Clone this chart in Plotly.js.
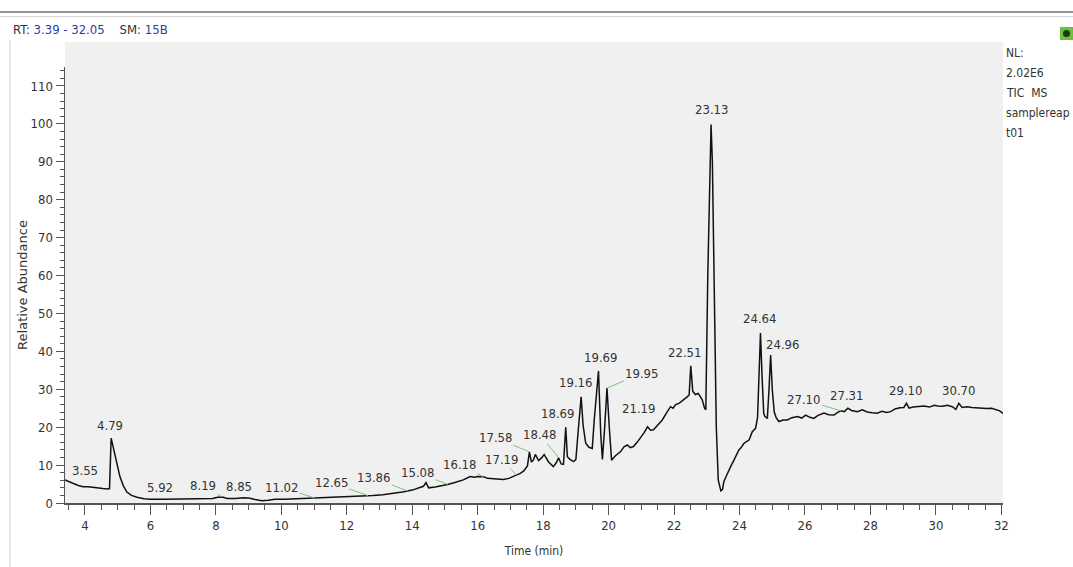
<!DOCTYPE html>
<html>
<head>
<meta charset="utf-8">
<script src="https://cdn.plot.ly/plotly-3.0.1.min.js"></script>
<style>html,body{margin:0;padding:0;background:#fff;}#chart{width:1073px;height:567px;}</style>
</head>
<body>
<div id="chart"></div>
<script>
// Retention time (min)
const timeMin = [3.39,3.50,3.63,3.80,3.94,4.10,4.25,4.40,4.55,4.70,4.75,4.80,4.86,4.92,5.00,5.07,5.17,5.28,5.42,5.59,5.80,6.00,6.40,6.80,7.20,7.60,7.90,8.05,8.19,8.35,8.60,8.85,9.00,9.20,9.40,9.60,9.80,10.10,10.40,10.70,11.02,11.30,11.60,11.90,12.20,12.50,12.80,13.10,13.40,13.70,14.00,14.20,14.34,14.42,14.50,14.70,14.90,15.08,15.30,15.56,15.77,15.90,16.00,16.18,16.30,16.50,16.78,16.95,17.09,17.19,17.30,17.40,17.52,17.58,17.64,17.70,17.76,17.86,17.95,18.03,18.16,18.31,18.40,18.47,18.55,18.62,18.69,18.74,18.82,18.93,19.00,19.07,19.16,19.22,19.30,19.40,19.50,19.56,19.69,19.76,19.81,19.88,19.95,20.02,20.09,20.20,20.36,20.47,20.57,20.66,20.76,20.87,20.97,21.08,21.19,21.28,21.37,21.50,21.64,21.77,21.89,21.97,22.04,22.17,22.30,22.40,22.46,22.51,22.57,22.65,22.74,22.86,22.93,22.97,23.03,23.10,23.13,23.17,23.23,23.29,23.35,23.43,23.48,23.52,23.60,23.67,23.75,23.83,23.90,23.98,24.05,24.13,24.21,24.29,24.39,24.49,24.55,24.60,24.64,24.69,24.74,24.78,24.85,24.90,24.95,25.00,25.06,25.12,25.20,25.33,25.46,25.60,25.77,25.90,26.02,26.15,26.27,26.40,26.58,26.72,26.89,27.00,27.10,27.20,27.31,27.42,27.60,27.75,27.90,28.05,28.21,28.35,28.50,28.62,28.75,28.90,29.02,29.10,29.18,29.30,29.45,29.64,29.80,29.95,30.05,30.20,30.35,30.50,30.61,30.70,30.80,30.95,31.10,31.25,31.40,31.55,31.70,31.85,31.95,32.05];
// Relative abundance (%)
const abundance = [6.1,5.6,5.2,4.6,4.3,4.3,4.1,4.0,3.8,3.7,3.8,17.1,14.8,12.0,9.0,6.9,4.6,2.9,2.0,1.5,1.1,1.0,1.0,1.05,1.0,1.1,1.2,1.5,1.6,1.2,1.2,1.4,1.3,0.9,0.6,0.7,1.0,1.0,1.1,1.2,1.3,1.3,1.5,1.6,1.7,1.9,2.0,2.2,2.5,2.9,3.4,3.9,4.4,5.4,4.0,4.2,4.5,4.9,5.4,6.1,7.0,6.8,7.0,6.9,6.5,6.4,6.2,6.5,7.0,7.3,7.8,8.4,9.8,13.5,10.8,11.3,12.8,11.2,11.9,12.8,10.9,9.6,10.6,11.9,10.3,10.2,20.0,12.2,11.5,10.9,11.5,19.0,28.0,20.5,15.8,14.7,14.4,21.9,34.8,18.0,11.5,20.0,30.3,20.0,11.3,12.4,13.5,14.8,15.3,14.6,14.9,16.0,17.1,18.5,20.1,19.2,19.3,20.5,21.9,23.8,25.4,25.0,25.9,26.4,27.2,28.0,28.5,36.2,29.5,28.6,28.9,27.2,25.0,24.6,60.0,95.0,99.8,90.0,55.0,20.0,6.0,3.2,3.6,5.6,7.2,8.7,10.0,11.3,12.5,14.0,14.6,15.7,16.2,16.6,18.8,19.7,22.5,38.0,44.8,33.0,23.5,22.8,22.3,30.0,39.0,30.0,24.0,22.5,21.5,21.9,21.9,22.5,22.8,22.4,23.2,22.6,22.3,23.1,23.7,23.3,23.2,23.9,24.3,24.1,25.0,24.4,24.1,24.6,24.0,23.8,23.7,24.2,23.9,24.1,24.8,25.1,25.2,26.3,25.0,25.3,25.4,25.6,25.3,25.8,25.6,25.5,25.8,25.4,24.7,26.3,25.2,25.4,25.2,25.1,25.0,24.9,25.0,24.6,24.3,23.6];
// Labelled peaks
const peakLabels = ["3.55","4.79","5.92","8.19","8.85","11.02","12.65","13.86","15.08","16.18","17.19","17.58","18.48","18.69","19.16","19.69","19.95","21.19","22.51","23.13","24.64","24.96","27.10","27.31","29.10","30.70"];
const peakLabelLinked = [0,0,0,1,0,1,1,1,1,1,1,1,1,0,0,0,1,0,0,0,0,0,1,0,0,0];
const xTickValues = [4,6,8,10,12,14,16,18,20,22,24,26,28,30,32];
const yTickValues = [0,10,20,30,40,50,60,70,80,90,100,110];
const infoLines = ["NL:","2.02E6","TIC  MS","samplereap","t01"];

// label offsets (pixels) relative to peak
const labelOffsets = [[15,-11],[-1,-13],[12,-12],[-19,-11],[-5,-11],[-33,-11],[-37,-13],[-34,-13],[-30,-12],[-24,-12],[-15,-16],[-34,-14],[-19,-23],[-8,-14],[-6,-14],[2,-14],[35,-15],[-9,-18],[-6,-13],[0,-15],[-1,-15],[12,-11],[-37,-11],[-1,-13],[-1,-13],[0,-13]];

const W=1073,H=567,ML=65,MR=70,MT=67,MB=64;
const PW=W-ML-MR, PH=H-MT-MB;
const px=(p)=>(p-ML)/PW;           // pixel x -> paper
const py=(p)=>(H-MB-p)/PH;         // pixel y -> paper

function valueAt(t){
  let best=-1;
  for(let i=0;i<timeMin.length;i++){
    if(Math.abs(timeMin[i]-t)<=0.06 && abundance[i]>best){best=abundance[i];}
  }
  if(best>=0) return best;
  for(let i=0;i<timeMin.length-1;i++){
    if(timeMin[i]<=t && timeMin[i+1]>=t){
      const f=(t-timeMin[i])/(timeMin[i+1]-timeMin[i]);
      return abundance[i]+f*(abundance[i+1]-abundance[i]);
    }
  }
  return 0;
}

const fam="Liberation Sans Narrow, Arial Narrow, DejaVu Sans Condensed, DejaVu Sans, sans-serif";
const labelFont={family:fam,size:13,color:"#333"};

const annotations = peakLabels.map((lab,i)=>({
  x: parseFloat(lab), y: valueAt(parseFloat(lab)), xref:"x", yref:"y",
  text: lab, showarrow:true, arrowhead:0, arrowwidth:1, standoff:0,
  arrowcolor: peakLabelLinked[i] ? "#7cc47c" : "rgba(0,0,0,0)",
  ax: labelOffsets[i][0], ay: labelOffsets[i][1], font: labelFont
}));

annotations.push({
  xref:"paper",yref:"paper",x:px(11),y:py(30),xanchor:"left",yanchor:"middle",showarrow:false,
  text:'<span style="color:#333">RT:</span> <span style="color:#2a3fa0">3.39 - 32.05</span>    <span style="color:#333">SM:</span> <span style="color:#2a3fa0">15B</span>',
  font:{family:fam,size:13,color:"#333"}
});
infoLines.forEach((s,i)=>{
  annotations.push({xref:"paper",yref:"paper",x:px(1004),y:py(53+20*i),xanchor:"left",yanchor:"middle",
    showarrow:false,text:s,font:{family:fam,size:12,color:"#333"}});
});

const shapes = [
  {type:"rect",xref:"paper",yref:"paper",x0:0,x1:1,y0:1,y1:py(42),fillcolor:"#f0f0f0",line:{width:0},layer:"below"},
  {type:"line",xref:"paper",yref:"paper",x0:px(0),x1:px(W),y0:py(12),y1:py(12),line:{color:"#707070",width:1.5}},
  {type:"line",xref:"paper",yref:"paper",x0:px(0),x1:px(W),y0:py(16.5),y1:py(16.5),line:{color:"#d8d8d8",width:1}},
  {type:"line",xref:"paper",yref:"paper",x0:px(10),x1:px(10),y0:py(40),y1:py(H),line:{color:"#cfcfcf",width:1}},
  {type:"rect",xref:"paper",yref:"paper",x0:px(1060),x1:px(1073),y0:py(40),y1:py(27),fillcolor:"#6cc040",line:{width:0}},
  {type:"circle",xref:"paper",yref:"paper",x0:px(1063),x1:px(1070),y0:py(37),y1:py(30),fillcolor:"#1d3a12",line:{width:0}}
];

const trace = {x:timeMin,y:abundance,type:"scatter",mode:"lines",line:{color:"#111",width:1.5},hoverinfo:"skip"};

const axisFont={family:fam,size:13,color:"#333"};
const layout = {
  width:W,height:H,margin:{l:ML,r:MR,t:MT,b:MB},
  paper_bgcolor:"#ffffff",plot_bgcolor:"#f0f0f0",showlegend:false,
  xaxis:{range:[3.39,32.05],tickmode:"array",tickvals:xTickValues,ticks:"outside",ticklen:10,tickwidth:1,tickcolor:"#555",
    showline:true,linecolor:"#555",linewidth:1.5,showgrid:false,zeroline:false,tickfont:axisFont,
    minor:{dtick:0.5,tick0:0,ticks:"outside",ticklen:5,tickcolor:"#555",showgrid:false},
    title:{text:"Time (min)",font:{family:fam,size:12,color:"#333"},standoff:14}},
  yaxis:{range:[0,115],tickmode:"array",tickvals:yTickValues,ticks:"outside",ticklen:8,tickwidth:1,tickcolor:"#555",
    showline:true,linecolor:"#555",linewidth:1.5,showgrid:false,zeroline:false,tickfont:axisFont,
    minor:{dtick:2,tick0:0,ticks:"outside",ticklen:4,tickcolor:"#555",showgrid:false},
    title:{text:"Relative Abundance",font:{family:"DejaVu Sans, sans-serif",size:13,color:"#333"},standoff:0}},
  annotations:annotations,shapes:shapes
};
Plotly.newPlot("chart",[trace],layout,{displayModeBar:false,staticPlot:true});
</script>
</body>
</html>
